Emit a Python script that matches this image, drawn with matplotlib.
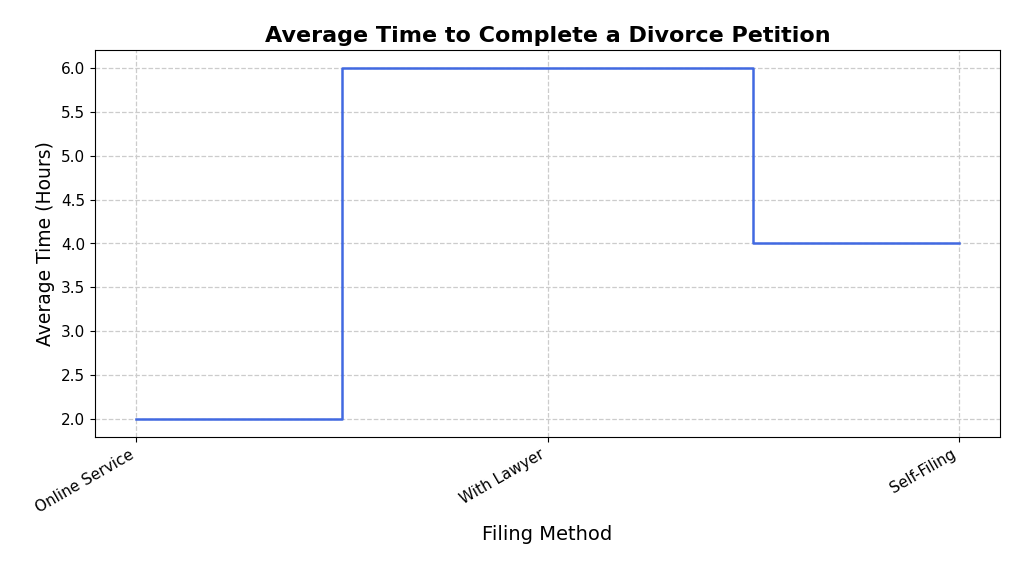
import matplotlib
matplotlib.use("Agg")
import matplotlib.pyplot as plt

methods = ["Online Service", "With Lawyer", "Self-Filing"]
avg_hours = [2.0, 6.0, 4.0]

fig = plt.figure(figsize=(10.24, 5.69), dpi=100)
ax = fig.add_axes([95/1024, 1-437/569, (1000-95)/1024, (437-50)/569])
x = list(range(len(methods)))
ax.step(x, avg_hours, where="mid", color="#4169E1", linewidth=1.8)
ax.set_xticks(x)
ax.set_xticklabels(methods, rotation=30, ha="right", fontsize=11)
ax.tick_params(axis="y", labelsize=11)
ax.set_yticks([2.0, 2.5, 3.0, 3.5, 4.0, 4.5, 5.0, 5.5, 6.0])
ax.set_xlim(-0.1, 2.1)
ax.set_ylim(1.8, 6.2)
ax.grid(True, linestyle="--", color="#cccccc", linewidth=0.9)
ax.set_axisbelow(True)
ax.set_title("Average Time to Complete a Divorce Petition", fontsize=16, fontweight="bold")
ax.set_xlabel("Filing Method", fontsize=14, labelpad=7)
ax.set_ylabel("Average Time (Hours)", fontsize=13.5)
fig.savefig("out.png", dpi=100)
